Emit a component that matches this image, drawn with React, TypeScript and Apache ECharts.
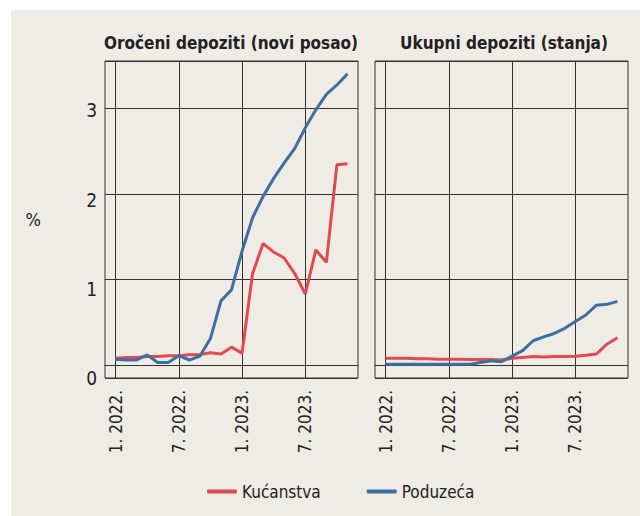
import React, { useEffect, useRef } from "react";
import * as echarts from "echarts";

const months = [
  "12. 2021.",
  "1. 2022.", "2. 2022.", "3. 2022.", "4. 2022.", "5. 2022.", "6. 2022.",
  "7. 2022.", "8. 2022.", "9. 2022.", "10. 2022.", "11. 2022.", "12. 2022.",
  "1. 2023.", "2. 2023.", "3. 2023.", "4. 2023.", "5. 2023.", "6. 2023.",
  "7. 2023.", "8. 2023.", "9. 2023.", "10. 2023.", "11. 2023.", "12. 2023.",
];

// Jan 2022 .. Nov 2023
const termHouseholds = [0.08, 0.09, 0.09, 0.1, 0.1, 0.11, 0.11, 0.12, 0.125, 0.145, 0.13, 0.21, 0.14, 1.07, 1.42, 1.32, 1.25, 1.07, 0.83, 1.345, 1.2, 2.34, 2.35];
const termCorporates = [0.07, 0.06, 0.06, 0.12, 0.03, 0.03, 0.11, 0.06, 0.105, 0.31, 0.75, 0.88, 1.33, 1.72, 1.97, 2.18, 2.36, 2.53, 2.77, 2.98, 3.16, 3.27, 3.4];
const totalHouseholds = [0.08, 0.08, 0.08, 0.075, 0.075, 0.07, 0.07, 0.07, 0.065, 0.065, 0.065, 0.06, 0.08, 0.09, 0.1, 0.095, 0.1, 0.1, 0.105, 0.115, 0.13, 0.245, 0.32];
const totalCorporates = [0.01, 0.01, 0.01, 0.01, 0.01, 0.01, 0.01, 0.01, 0.01, 0.03, 0.05, 0.04, 0.105, 0.17, 0.285, 0.33, 0.37, 0.43, 0.51, 0.585, 0.7, 0.71, 0.745];

const titles = ["Oročeni depoziti (novi posao)", "Ukupni depoziti (stanja)"];
const seriesNames = ["Kućanstva", "Poduzeća"];

const RED = "#e24a52";
const BLUE = "#3e6fa4";
const BG = "#efebe5";
const LINE = "#333333";
const FONT = "'Liberation Sans Narrow', 'DejaVu Sans Condensed', 'Roboto', sans-serif";

const pad = (arr: number[]) => [null, ...arr, null];

export default function App() {
  const ref = useRef<HTMLDivElement>(null);
  useEffect(() => {
    document.body.style.margin = "0";
    const chart = echarts.init(ref.current!, null, { renderer: "svg" });
    const isMajor = (idx: number, v: string) => v.startsWith("1. ") || v.startsWith("7. ");
    const xAxis = (gridIndex: number) => ({
      type: "category",
      gridIndex,
      data: months,
      boundaryGap: false,
      axisLine: { show: true, lineStyle: { color: LINE, width: 1 } },
      axisTick: { show: false },
      axisLabel: {
        interval: isMajor,
        rotate: 90,
        margin: 12,
        fontSize: 17,
        color: "#222",
        fontFamily: FONT,
      },
      splitLine: { show: true, interval: isMajor, lineStyle: { color: LINE, width: 1 } },
    });
    const dataY = (gridIndex: number) => ({
      type: "value",
      gridIndex,
      min: -0.15,
      max: 3.55,
      splitNumber: 4,
      axisLine: { show: false },
      axisTick: { show: false },
      axisLabel: { show: false },
      splitLine: { show: true, lineStyle: { color: LINE, width: 1 } },
    });
    const line = (name: string, color: string, data: number[], idx: number) => ({
      type: "line",
      name,
      data: pad(data),
      xAxisIndex: idx,
      yAxisIndex: idx === 0 ? 0 : 2,
      showSymbol: false,
      symbol: "none",
      lineStyle: { color, width: 3 },
      itemStyle: { color },
    });
    chart.setOption({
      animation: false,
      backgroundColor: "#ffffff",
      graphic: [
        { type: "rect", left: 11, top: 10, shape: { width: 629, height: 506 }, style: { fill: BG }, z: -10 },
      ],
      title: [
        { text: titles[0], left: 226, top: 29, textAlign: "center", textStyle: { fontFamily: FONT, fontWeight: "bold", fontSize: 17, color: "#222" } },
        { text: titles[1], left: 499, top: 29, textAlign: "center", textStyle: { fontFamily: FONT, fontWeight: "bold", fontSize: 17, color: "#222" } },
      ],
      legend: {
        data: seriesNames,
        left: 202,
        top: 478,
        itemWidth: 30,
        itemHeight: 4,
        itemGap: 46,
        icon: "roundRect",
        textStyle: { fontFamily: FONT, fontSize: 17, color: "#222" },
      },
      grid: [
        { left: 105, top: 61, width: 253, height: 317, show: true, borderColor: LINE, borderWidth: 1, backgroundColor: "transparent" },
        { left: 375, top: 61, width: 253, height: 317, show: true, borderColor: LINE, borderWidth: 1, backgroundColor: "transparent" },
      ],
      xAxis: [xAxis(0), xAxis(1)],
      yAxis: [
        dataY(0),
        {
          type: "value",
          gridIndex: 0,
          position: "left",
          offset: 0,
          min: 0,
          max: 3.552,
          interval: 1,
          name: "%",
          nameLocation: "middle",
          nameRotate: 0,
          nameGap: 64,
          nameTextStyle: { fontFamily: FONT, fontSize: 18, color: "#222" },
          axisLine: { show: false },
          axisTick: { show: false },
          splitLine: { show: false },
          axisLabel: {
            margin: 8,
            fontSize: 19,
            color: "#222",
            fontFamily: FONT,
            formatter: (v: number) => (Number.isInteger(v) ? String(v) : ""),
          },
        },
        dataY(1),
      ],
      series: [
        line(seriesNames[0], RED, termHouseholds, 0),
        line(seriesNames[1], BLUE, termCorporates, 0),
        line(seriesNames[0], RED, totalHouseholds, 1),
        line(seriesNames[1], BLUE, totalCorporates, 1),
      ],
    });
    return () => chart.dispose();
  }, []);
  return <div ref={ref} style={{ width: 640, height: 516 }} />;
}
